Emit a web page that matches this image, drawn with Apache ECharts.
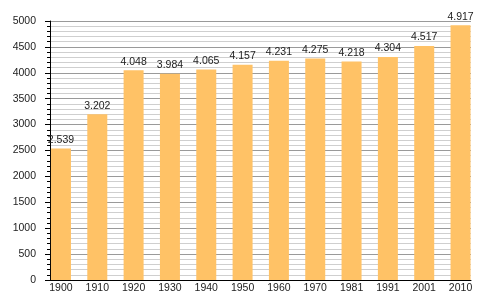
<!DOCTYPE html>
<html><head><meta charset="utf-8">
<script src="https://cdn.jsdelivr.net/npm/echarts@6/dist/echarts.min.js"></script>
<style>html,body{margin:0;padding:0;background:#fff}#c{width:500px;height:300px}</style>
</head><body><div id="c"></div>
<script>
const years = ['1900','1910','1920','1930','1940','1950','1960','1970','1981','1991','2001','2010'];
const population = [2539, 3202, 4048, 3984, 4065, 4157, 4231, 4275, 4218, 4304, 4517, 4917];
const yTicks = {min: 0, max: 5000, interval: 500};

function fmt(v){ return String(v).replace(/\B(?=(\d{3})+(?!\d))/g, '.'); }

const chart = echarts.init(document.getElementById('c'), null, {renderer:'canvas'});
const font = 'Liberation Sans, Arial, sans-serif';
chart.setOption({
  animation: false,
  grid: [
    {left: 42.8, right: 21.3, top: 21, bottom: 20},
    {left: 50, right: 29, top: 21, bottom: 20}
  ],
  xAxis: [
    {type: 'category', gridIndex: 0, data: years,
     axisLine: {show: false}, axisTick: {show: false},
     axisLabel: {color: '#222', fontSize: 10.5, fontFamily: font, margin: 3}},
    {type: 'value', gridIndex: 1, min: 0, max: 1,
     axisLine: {show: true, onZero: false, lineStyle: {color: '#000', width: 1}},
     axisTick: {show: false}, axisLabel: {show: false}, splitLine: {show: false}}
  ],
  yAxis: [
    {type: 'value', gridIndex: 0, min: yTicks.min, max: yTicks.max, interval: yTicks.interval, show: false, splitLine: {show: false}},
    {type: 'value', gridIndex: 1, min: yTicks.min, max: yTicks.max, interval: yTicks.interval, z: 0,
     axisLine: {show: true, lineStyle: {color: '#000', width: 1}},
     axisTick: {show: true, length: 5, lineStyle: {color: '#000'}},
     minorTick: {show: true, splitNumber: 5, length: 3, lineStyle: {color: '#000'}},
     axisLabel: {color: '#222', fontSize: 10.5, fontFamily: font, margin: 14, formatter: v => String(v)},
     splitLine: {show: true, lineStyle: {color: '#9a9a9a', width: 1}},
     minorSplitLine: {show: true, lineStyle: {color: '#cfcfcf', width: 1}}}
  ],
  series: [{
    type: 'bar', xAxisIndex: 0, yAxisIndex: 0, data: population, barWidth: 20, z: 3,
    itemStyle: {color: '#FFC266'},
    label: {show: true, position: 'top', distance: 3, color: '#222', fontSize: 10.5, fontFamily: font,
            formatter: p => fmt(p.value)}
  }]
});
</script></body></html>
